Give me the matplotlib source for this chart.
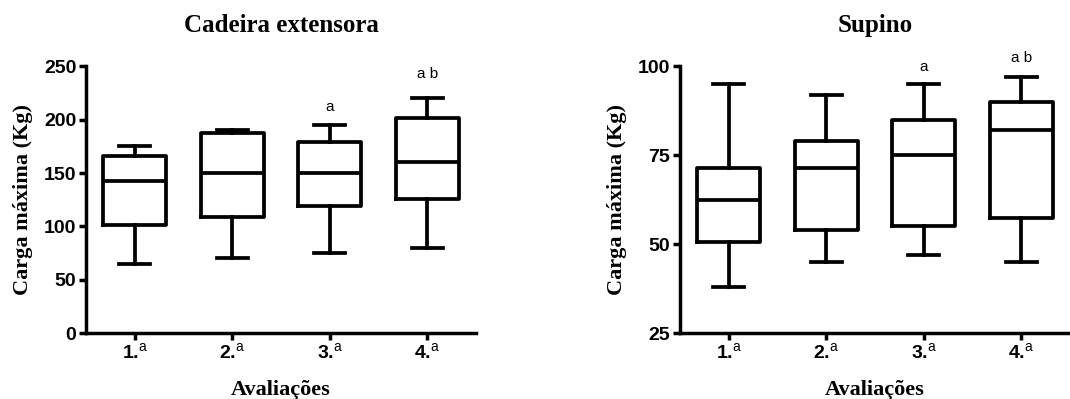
import matplotlib.pyplot as plt

plt.rcParams['mathtext.fontset'] = 'custom'
plt.rcParams['mathtext.rm'] = 'Liberation Sans'
plt.rcParams['mathtext.bf'] = 'Liberation Sans:bold'

# evaluation labels
avaliacoes = ["1.", "2.", "3.", "4."]

# box stats per evaluation: min, Q1, median, Q3, max (Kg)
cadeira_min = [65, 70, 75, 80]
cadeira_q1 = [101, 109, 119, 126]
cadeira_med = [143, 150, 150, 160]
cadeira_q3 = [166, 188, 179, 202]
cadeira_max = [175, 190, 195, 220]
cadeira_sig = ["", "", "a", "a b"]

supino_min = [38, 45, 47, 45]
supino_q1 = [50.5, 54, 55, 57.5]
supino_med = [62.5, 71.5, 75, 82]
supino_q3 = [71.5, 79, 85, 90]
supino_max = [95, 92, 95, 97]
supino_sig = ["", "", "a", "a b"]


def box_panel(ax, title, mins, q1, med, q3, maxs, sig, ylim, yticks, sig_y):
    stats = []
    for i in range(len(avaliacoes)):
        stats.append(dict(whislo=mins[i], q1=q1[i], med=med[i], q3=q3[i],
                          whishi=maxs[i], fliers=[]))
    lw = 2.7
    ax.bxp(stats, positions=range(1, len(stats) + 1), widths=0.65,
           showfliers=False,
           boxprops=dict(linewidth=lw, color="black"),
           medianprops=dict(linewidth=lw, color="black"),
           whiskerprops=dict(linewidth=lw, color="black"),
           capprops=dict(linewidth=lw, color="black"),
           capwidths=0.32)
    # significance letters above the boxes
    for i, s in enumerate(sig):
        if s:
            ax.text(i + 1, sig_y[i], s, ha="center", va="bottom",
                    fontsize=11, family="Liberation Sans")
    ax.set_xlim(0.5, 4.5)
    ax.set_ylim(*ylim)
    ax.set_yticks(yticks)
    ax.set_xticks(range(1, 5))
    ax.set_xticklabels([a + r"$^{\mathrm{a}}$" for a in avaliacoes])
    for lab in ax.get_xticklabels() + ax.get_yticklabels():
        lab.set_family("Liberation Sans")
        lab.set_fontweight("bold")
        lab.set_fontsize(14)
    ax.spines["top"].set_visible(False)
    ax.spines["right"].set_visible(False)
    ax.spines["left"].set_linewidth(2.5)
    ax.spines["bottom"].set_linewidth(2.5)
    ax.tick_params(width=2.5, length=5, pad=2)
    ax.set_title(title, fontsize=18, fontweight="bold", family="Liberation Serif", pad=25)
    ax.set_xlabel("Avaliações", fontsize=16, fontweight="bold",
                  family="Liberation Serif", labelpad=12)
    ax.set_ylabel("Carga máxima (Kg)", fontsize=16, fontweight="bold",
                  family="Liberation Serif", labelpad=8)


fig = plt.figure(figsize=(10.7, 3.99), dpi=100)
ax1 = fig.add_axes([0.0804, 0.1654, 0.3645, 0.668])
ax2 = fig.add_axes([0.6355, 0.1654, 0.3645, 0.668])

box_panel(ax1, "Cadeira extensora", cadeira_min, cadeira_q1, cadeira_med,
          cadeira_q3, cadeira_max, cadeira_sig, (0, 250), [0, 50, 100, 150, 200, 250],
          [0, 0, 205, 236])
box_panel(ax2, "Supino", supino_min, supino_q1, supino_med,
          supino_q3, supino_max, supino_sig, (25, 100), [25, 50, 75, 100],
          [0, 0, 98, 100.5])

fig.savefig("out.png", dpi=100)
